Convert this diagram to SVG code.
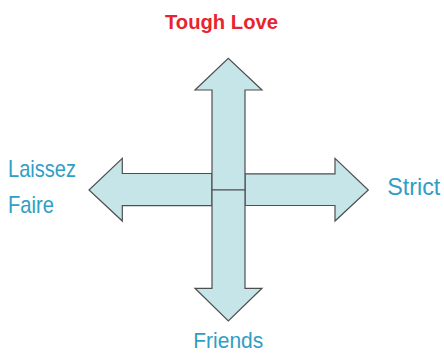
<svg xmlns="http://www.w3.org/2000/svg" width="444" height="353" viewBox="0 0 444 353">
<style>
.arr{fill:#c5e5e9;stroke:#4f4f4f;stroke-width:1.2;stroke-linejoin:miter}
.lbl{font-family:"Liberation Sans",Arial,sans-serif;font-size:24px;fill:#2f9ec4}
.top{font-family:"Liberation Sans",Arial,sans-serif;font-size:21px;font-weight:bold;fill:#e8242c}
</style>
<rect width="444" height="353" fill="#ffffff"/>
<g id="connectors">
<g id="arrow-left"><path class="arr" d="M212,173.5 L122.3,173.5 L122.3,158.3 L89,190 L122.3,221 L122.3,205.7 L212,205.7 Z"/></g>
<g id="arrow-right"><path class="arr" d="M245,173.8 L335,173.8 L335,158.3 L368.3,190 L335,221 L335,205.5 L245,205.5 Z"/></g>
<g id="arrow-up"><path class="arr" d="M212,190 L212,90 L195,90 L228.3,58.3 L262,90 L245,90 L245,190 Z"/></g>
<g id="arrow-down"><path class="arr" d="M212,190 L212,288.3 L195,288.3 L228.3,321 L262,288.3 L245,288.3 L245,190 Z"/></g>
</g>
<g id="node-tough-love"><text class="top" x="165" y="28.5" textLength="113" lengthAdjust="spacingAndGlyphs">Tough Love</text></g>
<g id="node-laissez-faire"><text class="lbl" x="8" y="176.7" textLength="68" lengthAdjust="spacingAndGlyphs">Laissez</text><text class="lbl" x="8" y="213.3" textLength="46" lengthAdjust="spacingAndGlyphs">Faire</text></g>
<g id="node-strict"><text class="lbl" x="387.3" y="195" textLength="53" lengthAdjust="spacingAndGlyphs">Strict</text></g>
<g id="node-friends"><text class="lbl" x="193.3" y="348" style="font-size:22px" textLength="70" lengthAdjust="spacingAndGlyphs">Friends</text></g>
</svg>
